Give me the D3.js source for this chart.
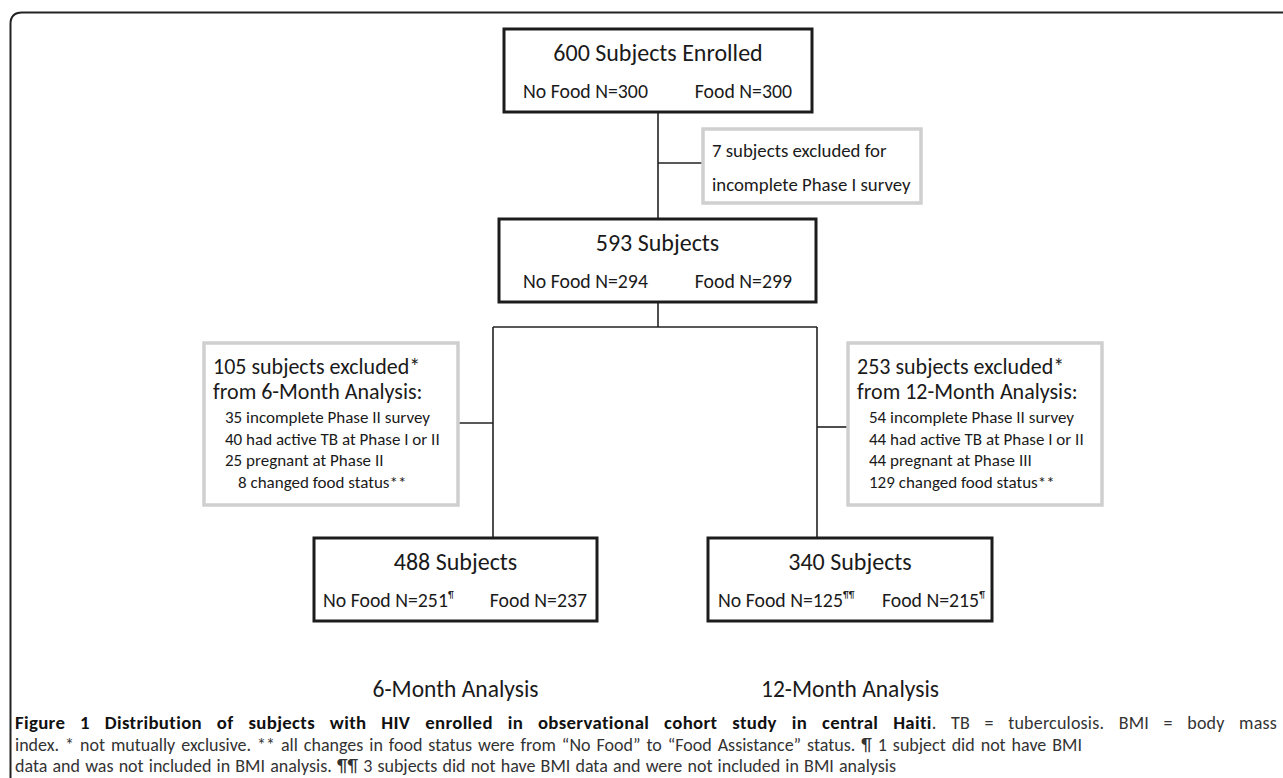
<!DOCTYPE html>
<html>
<head>
<meta charset="utf-8">
<script src="https://cdn.jsdelivr.net/npm/d3@7"></script>
<style>
  body { margin: 0; background: #fff; }
  text { font-family: Carlito, Calibri, Lato, sans-serif; white-space: pre; }
</style>
</head>
<body>
<script>
// flow chart values
const stageTitles = ["600 Subjects Enrolled", "593 Subjects", "488 Subjects", "340 Subjects"];
const noFoodN = [300, 294, 251, 125];
const foodN = [300, 299, 237, 215];
const noFoodNotes = ["", "", "¶", "¶¶"];
const foodNotes = ["", "", "", "¶"];

const firstExclusion = ["7 subjects excluded for", "incomplete Phase I survey"];
const exclusionTotals = [105, 253];
const exclusionAnalyses = ["6-Month Analysis", "12-Month Analysis"];
const reasons6 = ["35 incomplete Phase II survey", "40 had active TB at Phase I or II", "25 pregnant at Phase II", "\u2007 8 changed food status**"];
const reasons12 = ["54 incomplete Phase II survey", "44 had active TB at Phase I or II", "44 pregnant at Phase III", "129 changed food status**"];

const analysisLabels = ["6-Month Analysis", "12-Month Analysis"];

const captionBold = "Figure 1 Distribution of subjects with HIV enrolled in observational cohort study in central Haiti";
const captionLines = [
  ". TB = tuberculosis. BMI = body mass",
  "index. * not mutually exclusive. ** all changes in food status were from \u201cNo Food\u201d to \u201cFood Assistance\u201d status. \u00b6 1 subject did not have BMI",
  "data and was not included in BMI analysis. \u00b6\u00b6 3 subjects did not have BMI data and were not included in BMI analysis"
];

// layout
const W = 1283, H = 778;
const stageBoxes = [
  {x: 504, y: 29, w: 308, h: 83, padL: 19, padR: 20},
  {x: 499, y: 219, w: 317, h: 83, padL: 24, padR: 24},
  {x: 314, y: 538, w: 283, h: 83, padL: 9, padR: 10},
  {x: 708, y: 538, w: 284, h: 83, padL: 10, padR: 7}
];
const noteBoxes = [
  {x: 703, y: 129, w: 218, h: 74},
  {x: 204, y: 343, w: 254, h: 162},
  {x: 848, y: 343, w: 254, h: 162}
];
const connectors = [
  [658, 112, 658, 219],
  [658, 163, 703, 163],
  [658, 302, 658, 327],
  [493, 327, 817, 327],
  [493, 327, 493, 538],
  [817, 327, 817, 538],
  [458, 423, 493, 423],
  [817, 427, 848, 427]
];
const captionX = 15;
const captionEnds = [1277, 1082, 896];
const captionY = [729, 751, 772];

const svg = d3.select("body").append("svg")
  .attr("width", W)
  .attr("height", H);

// outer frame, only top and left sides show
svg.append("path")
  .attr("d", `M${W + 5},12.5 H22 Q10.5,12.5 10.5,24 V${H + 5}`)
  .attr("fill", "none")
  .attr("stroke", "#222")
  .attr("stroke-width", 2);

// connector lines
svg.append("g")
  .selectAll("line")
  .data(connectors)
  .join("line")
  .attr("x1", d => d[0]).attr("y1", d => d[1])
  .attr("x2", d => d[2]).attr("y2", d => d[3])
  .attr("stroke", "#222")
  .attr("stroke-width", 1.6);

// grey note boxes
svg.append("g")
  .selectAll("rect")
  .data(noteBoxes)
  .join("rect")
  .attr("x", d => d.x).attr("y", d => d.y)
  .attr("width", d => d.w).attr("height", d => d.h)
  .attr("fill", "#fff")
  .attr("stroke", "#cfcfcf")
  .attr("stroke-width", 3.5);

// main stage boxes
const stage = svg.append("g")
  .selectAll("g")
  .data(stageTitles.map((t, i) => ({
    title: t, no: noFoodN[i], food: foodN[i],
    noNote: noFoodNotes[i], foodNote: foodNotes[i], box: stageBoxes[i]
  })))
  .join("g");

stage.append("rect")
  .attr("x", d => d.box.x).attr("y", d => d.box.y)
  .attr("width", d => d.box.w).attr("height", d => d.box.h)
  .attr("fill", "#fff")
  .attr("stroke", "#1c1c1c")
  .attr("stroke-width", 3);

stage.append("text")
  .attr("x", d => d.box.x + d.box.w / 2)
  .attr("y", d => d.box.y + 32)
  .attr("text-anchor", "middle")
  .attr("font-size", 24)
  .attr("fill", "#1a1a1a")
  .text(d => d.title);

const noText = stage.append("text")
  .attr("x", d => d.box.x + d.box.padL)
  .attr("y", d => d.box.y + 69)
  .attr("font-size", 19.8)
  .attr("fill", "#1a1a1a");
noText.append("tspan").text(d => "No Food N=" + d.no);
noText.append("tspan")
  .attr("font-size", 10)
  .attr("dy", -9)
  .text(d => d.noNote);

const foodText = stage.append("text")
  .attr("x", d => d.box.x + d.box.w - d.box.padR)
  .attr("y", d => d.box.y + 69)
  .attr("text-anchor", "end")
  .attr("font-size", 19.8)
  .attr("fill", "#1a1a1a");
foodText.append("tspan").text(d => "Food N=" + d.food);
foodText.append("tspan")
  .attr("font-size", 10)
  .attr("dy", -9)
  .text(d => d.foodNote);

// first exclusion note
svg.append("g")
  .selectAll("text")
  .data(firstExclusion)
  .join("text")
  .attr("x", noteBoxes[0].x + 9)
  .attr("y", (d, i) => noteBoxes[0].y + 28 + i * 34)
  .attr("font-size", 18.8)
  .attr("fill", "#1a1a1a")
  .text(d => d);

// analysis exclusion notes
[reasons6, reasons12].forEach((items, k) => {
  const b = noteBoxes[k + 1];
  const g = svg.append("g");
  g.append("text")
    .attr("x", b.x + 9).attr("y", b.y + 31)
    .attr("font-size", 22).attr("fill", "#1a1a1a")
    .text(exclusionTotals[k] + " subjects excluded*");
  g.append("text")
    .attr("x", b.x + 9).attr("y", b.y + 56)
    .attr("font-size", 22).attr("fill", "#1a1a1a")
    .text("from " + exclusionAnalyses[k] + ":");
  g.selectAll("text.item")
    .data(items)
    .join("text")
    .attr("class", "item")
    .attr("x", b.x + 21)
    .attr("y", (d, i) => b.y + 80 + i * 21.5)
    .attr("font-size", 17)
    .attr("fill", "#1a1a1a")
    .text(d => d);
});

// column labels under the bottom boxes
svg.append("g")
  .selectAll("text")
  .data(analysisLabels)
  .join("text")
  .attr("x", (d, i) => stageBoxes[i + 2].x + stageBoxes[i + 2].w / 2)
  .attr("y", 697)
  .attr("text-anchor", "middle")
  .attr("font-size", 23.5)
  .attr("fill", "#1a1a1a")
  .text(d => d);

// caption
const gaps = s => (s.match(/ /g) || []).length;
const cap = svg.append("g").style("font-family", "Lato, sans-serif");

// first line: bold title + regular text, justified to the full width
const boldT = cap.append("text")
  .attr("x", captionX).attr("y", captionY[0])
  .attr("font-weight", "bold")
  .attr("font-size", 18.8)
  .attr("letter-spacing", 0.35)
  .attr("fill", "#111")
  .text(captionBold);
const restT = cap.append("text")
  .attr("y", captionY[0])
  .attr("font-size", 18)
  .attr("letter-spacing", 0.2)
  .attr("fill", "#333")
  .text(captionLines[0]);
const lb = boldT.node().getComputedTextLength();
const lr = restT.node().getComputedTextLength();
const ws = Math.max(0, (captionEnds[0] - captionX - lb - lr) / (gaps(captionBold) + gaps(captionLines[0])));
boldT.attr("word-spacing", ws);
restT.attr("word-spacing", ws)
  .attr("x", captionX + lb + ws * gaps(captionBold));

cap.selectAll("text.rest")
  .data(captionLines.slice(1))
  .join("text")
  .attr("class", "rest")
  .attr("x", captionX)
  .attr("y", (d, i) => captionY[i + 1])
  .attr("font-size", 18)
  .attr("fill", "#333")
  .text(d => d)
  .each(function (d, i) {
    const target = captionEnds[i + 1] - captionX;
    const natural = this.getComputedTextLength();
    if (natural < target) d3.select(this).attr("word-spacing", (target - natural) / gaps(d));
    else d3.select(this).attr("textLength", target).attr("lengthAdjust", "spacingAndGlyphs");
  });
</script>
</body>
</html>
